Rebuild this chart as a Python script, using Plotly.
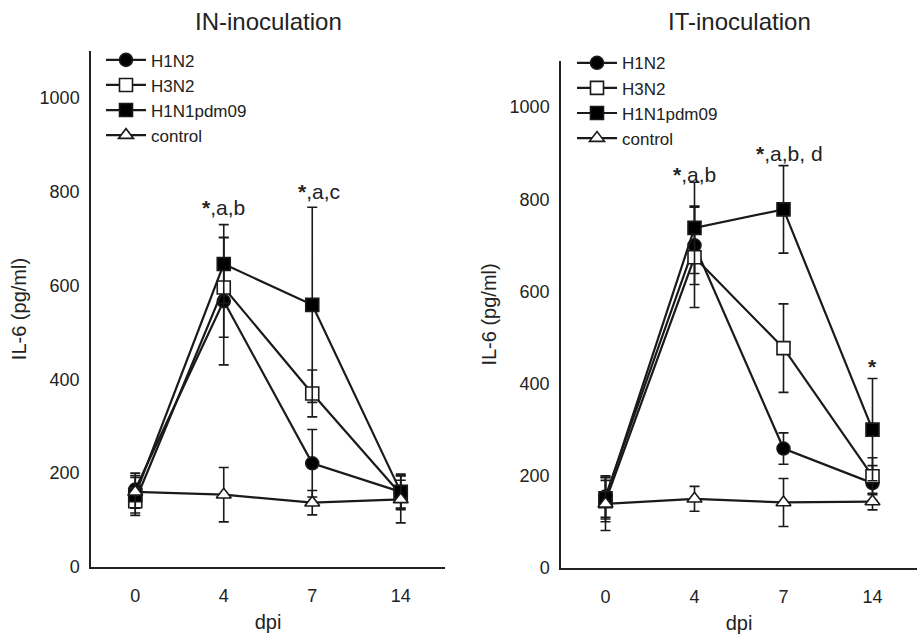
import plotly.graph_objects as go

dpi_labels = ["0", "4", "7", "14"]
series_names = ["H1N2", "H3N2", "H1N1pdm09", "control"]

# IN-inoculation (left panel)
in_h1n2 = [165, 567, 221, 160]
in_h1n2_err = [35, 136, 72, 35]
in_h3n2 = [140, 596, 370, 155]
in_h3n2_err = [30, 106, 50, 30]
in_h1n1 = [153, 646, 559, 160]
in_h1n1_err = [38, 84, 208, 38]
in_ctrl = [160, 154, 137, 144]
in_ctrl_err = [35, 58, 26, 50]

# IT-inoculation (right panel)
it_h1n2 = [155, 700, 259, 184]
it_h1n2_err = [45, 85, 34, 38]
it_h3n2 = [145, 674, 477, 199]
it_h3n2_err = [45, 109, 96, 40]
it_h1n1 = [151, 738, 778, 300]
it_h1n1_err = [45, 99, 95, 111]
it_ctrl = [139, 150, 142, 144]
it_ctrl_err = [58, 27, 52, 18]

in_notes = ["<b>*</b>,a,b", "<b>*</b>,a,c"]
in_note_x = [1.0, 2.08]
in_note_y = [767, 800]
it_notes = ["<b>*</b>,a,b", "<b>*</b>,a,b, d", "<b>*</b>"]
it_note_x = [1.0, 2.07, 3.0]
it_note_y = [854, 900, 436]

y_ticks = [0, 200, 400, 600, 800, 1000]

styles = [
    dict(symbol="circle", color="black"),
    dict(symbol="square", color="white"),
    dict(symbol="square", color="black"),
    dict(symbol="triangle-up", color="white"),
]

FONT = "Liberation Sans, Arial, sans-serif"
INK = "#1a1a1a"

fig = go.Figure()
xidx = list(range(len(dpi_labels)))

def add_panel(vals, errs, xa, ya, legend):
    for name, v, e, st in zip(series_names, vals, errs, styles):
        fig.add_trace(go.Scatter(
            x=xidx, y=v, name=name, mode="lines+markers",
            xaxis=xa, yaxis=ya, legend=legend,
            line=dict(color=INK, width=2.2),
            marker=dict(symbol=st["symbol"], color=st["color"], size=13,
                        line=dict(color=INK, width=1.6)),
            error_y=dict(type="data", array=e, visible=True, color=INK,
                         thickness=1.6, width=5),
            cliponaxis=False,
        ))

add_panel([in_h1n2, in_h3n2, in_h1n1, in_ctrl],
          [in_h1n2_err, in_h3n2_err, in_h1n1_err, in_ctrl_err], "x", "y", "legend")
add_panel([it_h1n2, it_h3n2, it_h1n1, it_ctrl],
          [it_h1n2_err, it_h3n2_err, it_h1n1_err, it_ctrl_err], "x2", "y2", "legend2")

W, H = 917, 634

def xd(a, b):
    return [a / W, b / W]

def yd(top, bottom):
    return [1 - bottom / H, 1 - top / H]

axis_common = dict(showgrid=False, zeroline=False, showline=True, linecolor="#222222",
                   linewidth=1.5, ticks="", tickfont=dict(family=FONT, size=18, color="#222222"))

xax = dict(axis_common, tickmode="array", tickvals=xidx, ticktext=dpi_labels,
           range=[-0.5, 3.5], ticklabelstandoff=12,
           title=dict(text="dpi", font=dict(family=FONT, size=20, color="#222222"), standoff=10))
yax = dict(axis_common, tickmode="array", tickvals=y_ticks, range=[0, 1100],
           ticklabelstandoff=6,
           title=dict(text="IL-6 (pg/ml)", font=dict(family=FONT, size=20, color="#222222"), standoff=8))

fig.update_layout(
    width=W, height=H,
    margin=dict(l=0, r=0, t=0, b=0),
    paper_bgcolor="white", plot_bgcolor="white",
    showlegend=True,
    xaxis=dict(xax, domain=xd(91, 445), anchor="y"),
    yaxis=dict(yax, domain=yd(52, 576), anchor="x"),
    xaxis2=dict(xax, domain=xd(561, 917), anchor="y2"),
    yaxis2=dict(yax, domain=yd(62, 577), anchor="x2"),
    legend=dict(x=101 / W, y=1 - 43 / H, xanchor="left", yanchor="top",
                bgcolor="rgba(255,255,255,0)", font=dict(family=FONT, size=17, color="#222222"),
                itemwidth=40, tracegroupgap=0),
    legend2=dict(x=572 / W, y=1 - 46 / H, xanchor="left", yanchor="top",
                 bgcolor="rgba(255,255,255,0)", font=dict(family=FONT, size=17, color="#222222"),
                 itemwidth=40, tracegroupgap=0),
)

annots = []
annots.append(dict(text="IN-inoculation", x=268 / W, y=1 - 22 / H, xref="paper", yref="paper",
                   xanchor="center", yanchor="middle",
                   showarrow=False, font=dict(family=FONT, size=24, color="#222222")))
annots.append(dict(text="IT-inoculation", x=739 / W, y=1 - 22 / H, xref="paper", yref="paper",
                   xanchor="center", yanchor="middle",
                   showarrow=False, font=dict(family=FONT, size=24, color="#222222")))
for t, x, y in zip(in_notes, in_note_x, in_note_y):
    annots.append(dict(text=t, x=x, y=y, xref="x", yref="y", showarrow=False,
                       xanchor="center", yanchor="middle",
                       font=dict(family=FONT, size=21, color="#222222")))
for t, x, y in zip(it_notes, it_note_x, it_note_y):
    annots.append(dict(text=t, x=x, y=y, xref="x2", yref="y2", showarrow=False,
                       xanchor="center", yanchor="middle",
                       font=dict(family=FONT, size=21, color="#222222")))
fig.update_layout(annotations=annots)

fig.write_html("out.html")
